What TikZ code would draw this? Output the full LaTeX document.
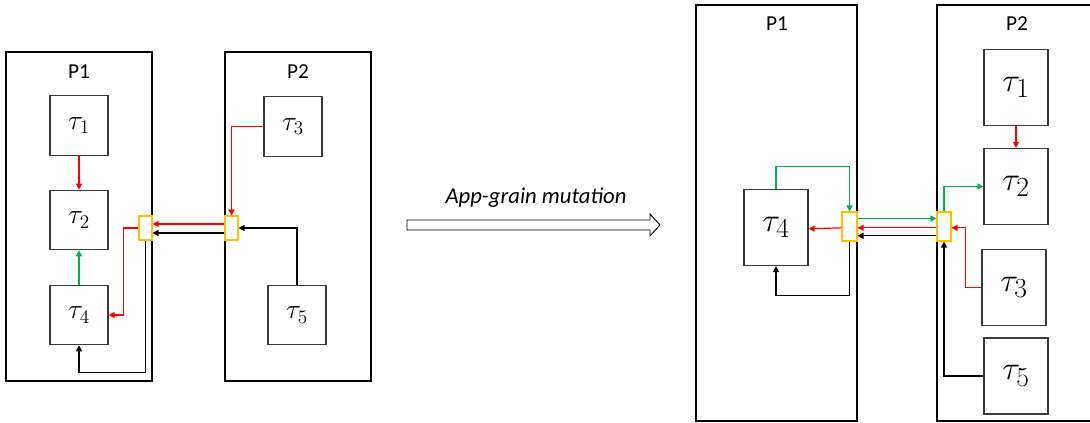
\documentclass[tikz,border=0pt]{standalone}
\usepackage{fontspec}
\setmainfont{Carlito}
\usetikzlibrary{arrows.meta}

\definecolor{msgred}{HTML}{FF0000}
\definecolor{msggreen}{HTML}{00B050}
\definecolor{portorange}{HTML}{FFC000}
\definecolor{boxgray}{HTML}{3A3A3A}

\begin{document}
\begin{tikzpicture}[
    x=0.75pt, y=-0.75pt,
    proc/.style={rectangle, draw, line width=2.2pt, inner sep=0pt},
    task/.style={rectangle, draw=boxgray, line width=0.9pt, inner sep=0pt, font=\huge},
    bigtask/.style={task, minimum width=48pt, minimum height=57pt, font=\Huge},
    port/.style={rectangle, draw=portorange, fill=white, line width=0.8pt, inner sep=0pt},
    plabel/.style={font=\fontsize{16}{18}\selectfont},
    msg/.style={line width=0.9pt, -{Triangle[length=4.5pt,width=4.5pt]}}
]
\useasboundingbox (0,0) rectangle (1090,423);

% before the mutation
\node [proc, minimum width=109.5pt, minimum height=246.75pt] (p1) at (79,216.5) {};
\node [proc, minimum width=109.5pt, minimum height=246.75pt] (p2) at (298,216.5) {};
\node [plabel] (lp1) at (79,72) {P1};
\node [plabel] (lp2) at (298,72) {P2};

\node [task, minimum width=43.5pt, minimum height=44.5pt] (t1) at (79,125.5) {$\tau_1$};
\node [task, minimum width=43.5pt, minimum height=44.5pt] (t2) at (79,220) {$\tau_2$};
\node [task, minimum width=43.5pt, minimum height=44.5pt] (t4) at (79,315) {$\tau_4$};
\node [task, minimum width=43.5pt, minimum height=45.5pt] (t3) at (293,126.5) {$\tau_3$};
\node [task, minimum width=43.5pt, minimum height=44.5pt] (t5) at (297,315) {$\tau_5$};

\node [port, minimum width=9.75pt, minimum height=18pt] (pa) at (145.5,228) {};
\node [port, minimum width=9.75pt, minimum height=18pt] (pb) at (231.5,228) {};

\draw [msg, msgred] (t1) -- (t2);
\draw [msg, msggreen] (t4) -- (t2);
\draw [msg, msgred] (t3.west) -| (pb.north);
\draw [msg, msgred] ([yshift=3pt]pb.west) -- ([yshift=3pt]pa.east);
\draw [msg, black] ([yshift=-3.75pt]pb.west) -- ([yshift=-3.75pt]pa.east);
\draw [msg, black] (t5.north) |- (pb.east);
\draw [msg, msgred] (pa.west) -- ++(-15,0) |- (t4.east);
\draw [msg, black] (pa.south) -- ++(0,132) -| (t4.south);

% the mutation
\draw [line width=0.7pt, fill=white] (407,220) -- (650,220) -- (650,214) -- (660,225)
    -- (650,236) -- (650,230) -- (407,230) -- cycle;
\node [font=\fontsize{17}{19}\selectfont\itshape] (mut) at (536,198) {App-grain mutation};

% after the mutation
\node [proc, minimum width=120.75pt, minimum height=312pt] (q1) at (776.5,213) {};
\node [proc, minimum width=122.25pt, minimum height=312pt] (q2) at (1018.5,213) {};
\node [plabel] (lq1) at (777,24) {P1};
\node [plabel] (lq2) at (1017,24) {P2};

\node [bigtask] (r4) at (776,227.5) {$\tau_4$};
\node [bigtask] (r1) at (1016,87.5) {$\tau_1$};
\node [bigtask] (r2) at (1016,186.5) {$\tau_2$};
\node [bigtask] (r3) at (1014,287.5) {$\tau_3$};
\node [bigtask] (r5) at (1016,376) {$\tau_5$};

\node [port, minimum width=11.25pt, minimum height=21.75pt] (ra) at (849.5,226.5) {};
\node [port, minimum width=10.5pt, minimum height=21.75pt] (rb) at (944,226.5) {};

\draw [msg, msgred] (r1) -- (r2);
\draw [msg, msggreen] (r4.north) -- ++(0,-22) -| (ra.north);
\draw [msg, msggreen] ([yshift=6pt]ra.east) -- ([yshift=6pt]rb.west);
\draw [msg, msgred] ([yshift=-1pt]rb.west) -- ([yshift=-1pt]ra.east);
\draw [msg, black] ([yshift=-7pt]rb.west) -- ([yshift=-7pt]ra.east);
\draw [msg, msgred] ([yshift=-1pt]ra.west) -- ([yshift=-1pt]r4.east);
\draw [msg, black] (ra.south) -- ++(0,54) -| (r4.south);
\draw [msg, msggreen] (rb.north) |- (r2.west);
\draw [msg, msgred] (r3.west) -- ++(-16,0) |- ([yshift=-1pt]rb.east);
\draw [msg, black] (r5.west) -| (rb.south);

\end{tikzpicture}
\end{document}
